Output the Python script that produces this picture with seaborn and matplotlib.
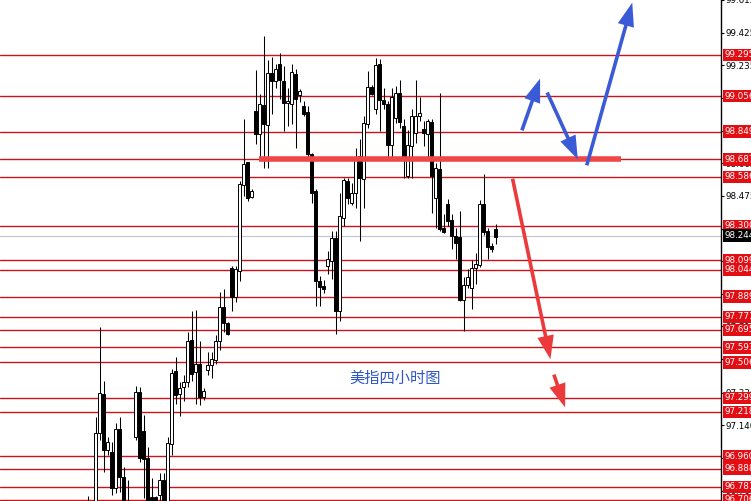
import numpy as np
import pandas as pd
import seaborn as sns
import matplotlib
matplotlib.use("Agg")
import matplotlib.pyplot as plt
import matplotlib.transforms as mtransforms
from matplotlib.patches import FancyArrowPatch

# 4-hour candles, oldest first
opens = [96.66, 96.64, 96.63, 97.094, 97.320, 96.995, 96.985, 96.774, 97.117, 96.838,
         96.68, 96.66, 97.072, 97.333, 97.105, 96.948, 96.72, 96.72, 96.734, 96.821,
         96.68, 97.030, 97.455, 97.320, 97.36, 97.391, 97.638, 97.447, 97.499, 97.302,
         97.459, 97.488, 97.517, 97.629, 97.830, 97.733, 98.056, 97.884, 98.039, 98.538,
         98.671, 98.468, 98.967, 98.835, 99.002, 98.886, 99.189, 99.141, 99.240, 99.141,
         99.015, 99.009, 99.183, 99.060, 98.996, 98.963, 98.718, 98.503, 97.981, 97.952,
         98.068, 98.095, 98.230, 97.803, 98.348, 98.561, 98.435, 98.493, 98.706, 98.572,
         98.892, 99.106, 98.983, 99.240, 99.031, 99.009, 98.770, 98.928, 99.073, 98.880,
         98.590, 98.764, 98.841, 98.938, 98.863, 98.835, 98.905, 98.464, 98.630, 98.288,
         98.427, 98.335, 98.242, 98.236, 97.871, 97.958, 97.940, 98.055, 98.074, 98.429,
         98.271, 98.184, 98.283]
highs = [96.73, 96.68, 97.186, 97.710, 97.395, 97.072, 97.043, 97.151, 97.186, 96.896,
         96.82, 96.69, 97.366, 97.360, 97.198, 97.012, 96.83, 96.73, 96.861, 96.861,
         97.070, 97.470, 97.536, 97.391, 97.430, 97.685, 97.807, 97.813, 97.633, 97.354,
         97.569, 97.569, 97.668, 97.913, 97.935, 97.740, 98.068, 98.068, 98.561, 98.920,
         98.675, 98.515, 99.205, 99.066, 99.408, 99.263, 99.286, 99.245, 99.309, 99.228,
         99.100, 99.245, 99.212, 99.095, 99.025, 99.000, 98.727, 98.514, 98.010, 97.987,
         98.155, 98.271, 98.271, 98.491, 98.580, 98.580, 98.550, 98.752, 98.805, 98.940,
         99.200, 99.120, 99.275, 99.270, 99.100, 99.025, 99.100, 99.115, 99.147, 98.920,
         98.860, 98.980, 99.147, 99.050, 98.909, 98.920, 98.920, 98.667, 99.073, 98.370,
         98.457, 98.370, 98.290, 98.387, 98.004, 98.050, 98.103, 98.145, 98.450, 98.603,
         98.290, 98.200, 98.311]
lows = [96.60, 96.58, 96.60, 97.053, 96.867, 96.966, 96.734, 96.745, 96.751, 96.62,
        96.60, 96.58, 97.053, 96.927, 96.716, 96.62, 96.62, 96.62, 96.705, 96.64,
        96.62, 96.966, 97.262, 97.192, 97.280, 97.362, 97.400, 97.262, 97.256, 97.285,
        97.430, 97.412, 97.499, 97.575, 97.681, 97.665, 97.807, 97.855, 97.981, 98.474,
        98.445, 98.460, 98.776, 98.700, 98.638, 98.638, 98.951, 99.100, 99.037, 98.851,
        98.880, 98.893, 98.752, 99.020, 98.938, 98.700, 98.435, 97.836, 97.836, 97.910,
        98.021, 97.990, 97.673, 97.749, 98.300, 98.430, 98.420, 98.406, 98.213, 98.406,
        98.870, 99.060, 98.950, 98.850, 98.980, 98.700, 98.700, 98.900, 98.870, 98.580,
        98.580, 98.580, 98.780, 98.910, 98.764, 98.696, 98.377, 98.288, 98.271, 98.260,
        98.300, 98.167, 98.108, 97.865, 97.687, 97.940, 97.818, 97.963, 98.060, 98.250,
        98.108, 98.150, 98.196]
closes = [96.64, 96.62, 97.094, 97.325, 96.995, 97.043, 96.774, 97.117, 96.838, 96.68,
          96.66, 96.65, 97.333, 96.948, 96.943, 96.66, 96.69, 96.70, 96.821, 96.70,
          97.035, 97.443, 97.314, 97.356, 97.391, 97.633, 97.441, 97.499, 97.302, 97.337,
          97.488, 97.523, 97.633, 97.830, 97.733, 97.673, 97.884, 98.050, 98.545, 98.661,
          98.464, 98.503, 98.835, 99.007, 98.893, 99.189, 99.141, 99.211, 99.147, 99.015,
          99.025, 99.195, 99.041, 99.083, 98.951, 98.719, 98.493, 97.981, 97.946, 97.935,
          98.108, 98.230, 97.803, 98.358, 98.567, 98.464, 98.493, 98.700, 98.580, 98.899,
          99.106, 99.070, 99.238, 99.035, 99.009, 98.770, 99.048, 99.073, 98.905, 98.696,
          98.770, 98.938, 98.938, 98.957, 98.841, 98.909, 98.590, 98.638, 98.283, 98.267,
          98.329, 98.242, 98.203, 97.871, 97.958, 98.004, 98.056, 98.081, 98.429, 98.267,
          98.178, 98.167, 98.236]

# horizontal support / resistance levels
levels = [99.295, 99.056, 98.849, 98.687, 98.586, 98.300, 98.099, 98.044, 97.889,
          97.771, 97.695, 97.593, 97.506, 97.299, 97.218, 96.960, 96.888, 96.781, 96.706]
level_labels = ['99.295', '99.056', '98.849', '98.687', '98.586', '98.300', '98.099',
                '98.044', '97.889', '97.771', '97.695', '97.593', '97.506', '97.299',
                '97.218', '96.960', '96.888', '96.781', '96.706']

# price scale ticks
tick_values = [99.615, 99.425, 99.235, 99.045, 98.855, 98.665, 98.475, 98.285, 98.095,
               97.905, 97.715, 97.525, 97.330, 97.140, 96.950, 96.760]
tick_labels = ['99.615', '99.425', '99.235', '99.045', '98.855', '98.665', '98.475',
               '98.285', '98.095', '97.905', '97.715', '97.525', '97.330', '97.140',
               '96.950', '96.760']

last_price = 98.244
key_level = 98.687
chart_title = '美指四小时图'

df = pd.DataFrame({'open': opens, 'high': highs, 'low': lows, 'close': closes})
df['x'] = np.arange(len(df))
df['up'] = df['close'] >= df['open']
df['body'] = (df['close'] - df['open']).abs().clip(lower=0.006)
df['bottom'] = df[['open', 'close']].min(axis=1)

sns.set_style('white')
plt.rcParams['font.family'] = ['DejaVu Sans', 'Noto Sans CJK SC']

W, H = 751, 501
fig = plt.figure(figsize=(W / 100, H / 100), dpi=100)
ax = fig.add_axes([0, 0, 721 / W, 1])

# levels
for lv in levels:
    ax.axhline(lv, color='#c8141c', lw=1.0, zorder=1)
ax.axhline(last_price, color='#c4c4c4', lw=0.8, zorder=1)

# candles
ax.vlines(df['x'], df['low'], df['high'], color='black', lw=0.75, zorder=3)
ax.bar(df['x'], df['body'], bottom=df['bottom'], width=0.68,
       color=np.where(df['up'], 'white', 'black'), edgecolor='black',
       linewidth=0.7, zorder=4)

ax.set_xlim(-21.9, 158.3)
ax.set_ylim(96.699, 99.605)

# axes
sns.despine(ax=ax, left=True, top=True, bottom=True, right=False)
ax.spines['right'].set_color('black')
ax.spines['right'].set_linewidth(1.0)
ax.set_xticks([])
ax.yaxis.tick_right()
ax.set_yticks(tick_values)
ax.set_yticklabels(tick_labels)
ax.tick_params(axis='y', direction='out', length=2.5, width=0.8, pad=1.0,
               labelsize=6.3, colors='black')

# price tags on the right
trans = mtransforms.blended_transform_factory(ax.transAxes, ax.transData)
for lv, lab in zip(levels, level_labels):
    ax.text(1.005, lv, lab, transform=trans, ha='left', va='center', fontsize=6.3,
            color='white', clip_on=False, zorder=6,
            bbox=dict(boxstyle='square,pad=0.2', fc='#e30e14', ec='none'))
ax.text(1.005, last_price, '98.244', transform=trans, ha='left', va='center',
        fontsize=6.3, color='white', clip_on=False, zorder=6,
        bbox=dict(boxstyle='square,pad=0.2', fc='black', ec='none'))


def fr(px, py):
    return (px / 721, 1 - py / H)


# thick key line
ax.plot([fr(259, 0)[0], fr(621, 0)[0]], [key_level, key_level], transform=trans,
        color='#f04646', lw=4.0, solid_capstyle='butt', zorder=5)

# scenario arrows
arrows = [
    ((521, 133), (541, 76), '#3b5bd6'),
    ((546, 90), (579, 162), '#3b5bd6'),
    ((586, 168), (633, 0), '#3b5bd6'),
    ((512, 176), (551, 362), '#ec3a3c'),
    ((553, 372), (566, 410), '#ec3a3c'),
]
for start, end, col in arrows:
    ax.add_patch(FancyArrowPatch(fr(*start), fr(*end), transform=ax.transAxes,
                                 arrowstyle='simple,head_length=0.85,head_width=0.6,tail_width=0.13',
                                 mutation_scale=20, color=col, lw=0, zorder=7,
                                 clip_on=False))

ax.text(*fr(395, 378), chart_title, transform=ax.transAxes, ha='center', va='center',
        fontsize=11, color='#2f55c8', family=['Noto Sans CJK SC', 'DejaVu Sans'],
        zorder=7)

fig.savefig('out.png', dpi=100)
